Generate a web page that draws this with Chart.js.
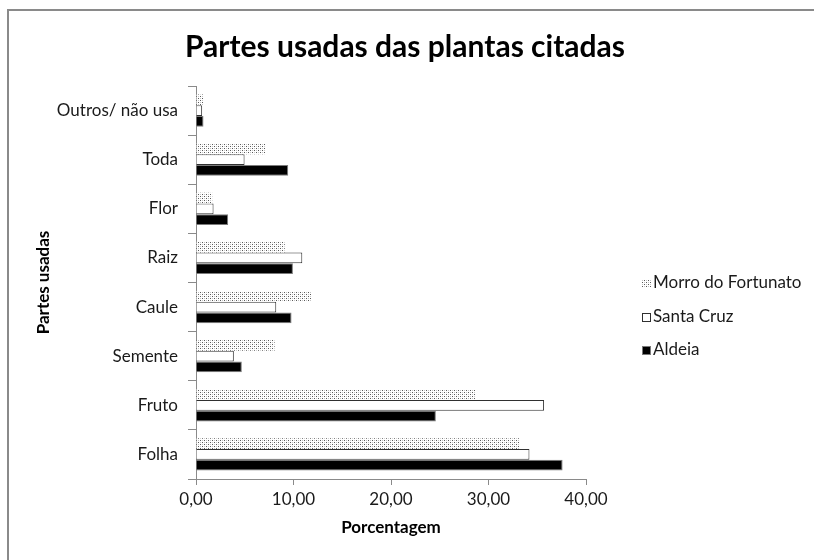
<!DOCTYPE html>
<html>
<head>
<meta charset="utf-8">
<script src="https://cdn.jsdelivr.net/npm/chart.js@4"></script>
<style>
html,body{margin:0;padding:0;background:#fff;}
#wrap{width:814px;height:560px;position:relative;}
</style>
</head>
<body>
<div id="wrap"><canvas id="c" width="814" height="560"></canvas></div>
<script>
const categories = ["Outros/ não usa","Toda","Flor","Raiz","Caule","Semente","Fruto","Folha"];
const morroDoFortunato = [0.77, 7.1, 1.66, 9.1, 11.86, 8.06, 28.7, 33.2];
const santaCruz        = [0.63, 4.98, 1.8, 10.9, 8.23, 3.88, 35.7, 34.2];
const aldeia           = [0.77, 9.46, 3.3, 9.94, 9.8, 4.7, 24.6, 37.6];
const seriesNames = ["Morro do Fortunato","Santa Cruz","Aldeia"];
const xTicks = [0, 10, 20, 30, 40];
const chartTitle = 'Partes usadas das plantas citadas';

const FONT = "Lato, 'Open Sans', sans-serif";

function makeDots(){
  const p = document.createElement('canvas');
  p.width = 4; p.height = 4;
  const g = p.getContext('2d');
  g.fillStyle = '#ffffff'; g.fillRect(0,0,4,4);
  g.fillStyle = '#c4c4c4';
  g.fillRect(2,0,1,1); g.fillRect(0,2,1,1);
  g.fillStyle = '#5a5a5a';
  g.fillRect(0,0,1,1); g.fillRect(2,2,1,1);
  return document.getElementById('c').getContext('2d').createPattern(p,'repeat');
}
const dots = makeDots();

const framePlugin = {
  id:'frame',
  beforeDraw(chart){
    const ctx = chart.ctx;
    ctx.save();
    ctx.fillStyle = '#fff';
    ctx.fillRect(0,0,chart.width,chart.height);
    ctx.strokeStyle = '#8a8a8a';
    ctx.lineWidth = 2;
    ctx.strokeRect(8, 10, 900, 700);
    ctx.fillStyle = '#000';
    ctx.font = "bold 30px " + FONT;
    ctx.textAlign = 'center';
    ctx.textBaseline = 'middle';
    ctx.fillText(chartTitle, 405, 47);
    ctx.restore();
  }
};

const legendPlugin = {
  id:'customLegend',
  afterDraw(chart){
    const ctx = chart.ctx;
    ctx.save();
    const ys = [283, 317, 350];
    ctx.font = "17px " + FONT;
    ctx.textBaseline = 'middle';
    ctx.textAlign = 'left';
    let maxW = 0;
    chart.data.datasets.forEach(ds => { maxW = Math.max(maxW, ctx.measureText(ds.label).width); });
    const textX = Math.round(801 - maxW);
    chart.data.datasets.forEach((ds, i) => {
      const y = ys[i];
      const bx = textX - 11, by = y - 4, s = 9;
      ctx.fillStyle = ds.backgroundColor;
      ctx.fillRect(bx, by, s, s);
      if (ds.borderWidth) {
        ctx.strokeStyle = ds.borderColor;
        ctx.lineWidth = 1;
        ctx.strokeRect(bx + 0.5, by + 0.5, s - 1, s - 1);
      }
      ctx.fillStyle = '#1a1a1a';
      ctx.fillText(ds.label, textX, y);
    });
    ctx.restore();
  }
};

new Chart(document.getElementById('c'), {
  type: 'bar',
  data: {
    labels: categories,
    datasets: [
      { label: seriesNames[0], data: morroDoFortunato, backgroundColor: dots, borderWidth: 0 },
      { label: seriesNames[1], data: santaCruz, backgroundColor: '#ffffff', borderColor: '#303030', borderWidth: 1 },
      { label: seriesNames[2], data: aldeia, backgroundColor: '#000000', borderColor: '#7a7a7a', borderWidth: 1 }
    ]
  },
  options: {
    indexAxis: 'y',
    responsive: false,
    animation: false,
    devicePixelRatio: 1,
    layout: { padding: { top: 86, left: 0, right: 228, bottom: 0 } },
    datasets: { bar: { categoryPercentage: 0.655, barPercentage: 1.0 } },
    plugins: {
      legend: { display: false },
      tooltip: { enabled: false },
      title: { display: false }
    },
    scales: {
      x: {
        type: 'linear',
        min: 0, max: 40,
        afterBuildTicks(scale){ scale.ticks = xTicks.map(v => ({ value: v })); },
        afterFit(scale){ scale.height = 81; },
        ticks: {
          color: '#1a1a1a',
          font: { family: FONT, size: 17 },
          padding: 4,
          callback: v => v.toFixed(2).replace('.', ',')
        },
        grid: { drawOnChartArea: false, drawTicks: true, tickLength: 6, color: '#8a8a8a' },
        border: { color: '#8a8a8a', width: 1 },
        title: {
          display: true, text: 'Porcentagem', color: '#000',
          font: { family: FONT, size: 17, weight: 'bold', lineHeight: 1.2 },
          padding: { top: 0, bottom: 22 }
        }
      },
      y: {
        type: 'category',
        afterFit(scale){ scale.width = 196; },
        ticks: { color: '#1a1a1a', font: { family: FONT, size: 17 }, padding: 10 },
        grid: { drawOnChartArea: false, drawTicks: true, tickLength: 8, color: '#8a8a8a', offset: true },
        border: { color: '#8a8a8a', width: 1 },
        title: {
          display: true, text: 'Partes usadas', color: '#000',
          font: { family: FONT, size: 17, weight: 'bold', lineHeight: 1.2 },
          padding: { top: 33, bottom: 0 }
        }
      }
    }
  },
  plugins: [framePlugin, legendPlugin]
});
</script>
</body>
</html>
